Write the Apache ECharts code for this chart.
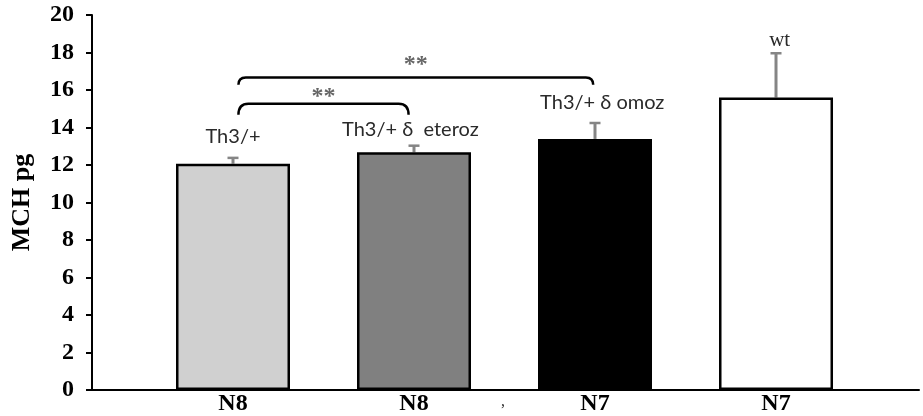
<!DOCTYPE html>
<html>
<head>
<meta charset="utf-8">
<script src="https://cdn.jsdelivr.net/npm/echarts@6/dist/echarts.min.js"></script>
<style>
  html, body { margin: 0; padding: 0; background: #fff; }
  #chart { width: 923px; height: 416px; }
</style>
</head>
<body>
<div id="chart"></div>
<script>
// Group labels along the x axis and the genotype tags above each bar
const categories = ['N8', 'N8', 'N7', 'N7'];
const groupTags = ['Th3/+', 'Th3/+ δ  eteroz', 'Th3/+ δ omoz', 'wt'];
// Mean MCH (pg) and upper error
const means = [12.07, 12.68, 13.39, 15.6];
const errors = [0.31, 0.35, 0.85, 2.36];
const barColors = ['#d0d0d0', '#808080', '#000000', '#ffffff'];
// Where each genotype tag sits: bar position and height (pg)
const tagX = [0, 0.98, 2.04, 3.02];
const tagHeights = [13.5, 13.9, 15.32, 18.65];
// Significance brackets: [from bar, to bar, top level, end level, mark level, mark]
const brackets = [
  [0.03, 0.97, 15.27, 14.68, 15.85, '**'],
  [0.03, 1.99, 16.67, 16.28, 17.57, '**']
];
const yTicks = { min: 0, max: 20, interval: 2 };

const chart = echarts.init(document.getElementById('chart'));

const barData = means.map((v, i) => ({
  value: [i, v],
  itemStyle: { color: barColors[i], borderColor: '#000', borderWidth: 2.5 }
}));

const errData = means.map((v, i) => [i, v, v + errors[i]]);
const tagData = groupTags.map((t, i) => [tagX[i], tagHeights[i], t]);

chart.setOption({
  animation: false,
  grid: { left: 92, right: 4, top: 15, bottom: 25 },
  xAxis: {
    type: 'value',
    min: -0.779,
    max: 3.79,
    splitLine: { show: false },
    axisLine: { show: true, onZero: false, lineStyle: { color: '#000', width: 2 } },
    axisTick: { show: false },
    axisLabel: {
      customValues: [0, 1, 2, 3],
      formatter: v => categories[Math.round(v)] || '',
      fontFamily: 'Liberation Serif',
      fontWeight: 'bold',
      fontSize: 24,
      color: '#000',
      margin: 2
    }
  },
  yAxis: {
    type: 'value',
    min: yTicks.min,
    max: yTicks.max,
    interval: yTicks.interval,
    name: 'MCH pg',
    nameLocation: 'middle',
    nameGap: 57,
    nameRotate: 90,
    nameTextStyle: {
      fontFamily: 'Liberation Serif', fontWeight: 'bold', fontSize: 26, color: '#000'
    },
    splitLine: { show: false },
    axisLine: { show: true, onZero: false, lineStyle: { color: '#000', width: 2 } },
    axisTick: { show: true, inside: false, length: 6, lineStyle: { color: '#000', width: 2 } },
    axisLabel: {
      fontFamily: 'Liberation Serif', fontWeight: 'bold', fontSize: 24, color: '#000', margin: 18
    }
  },
  graphic: [{
    type: 'text', left: 501, top: 394,
    style: { text: ',', font: '16px "Liberation Serif"', fill: '#333' }
  }],
  series: [
    {
      type: 'bar',
      data: barData,
      barWidth: 114
    },
    {
      type: 'custom',
      data: errData,
      z: 1,
      renderItem: (params, api) => {
        const base = api.coord([api.value(0), api.value(1)]);
        const top = api.coord([api.value(0), api.value(2)]);
        return {
          type: 'group',
          children: [
            { type: 'line', shape: { x1: base[0], y1: base[1], x2: top[0], y2: top[1] },
              style: { stroke: '#858585', lineWidth: 3 } },
            { type: 'line', shape: { x1: top[0] - 5.5, y1: top[1], x2: top[0] + 5.5, y2: top[1] },
              style: { stroke: '#858585', lineWidth: 2.5 } }
          ]
        };
      }
    },
    {
      type: 'custom',
      data: tagData,
      renderItem: (params, api) => {
        const p = api.coord([api.value(0), api.value(1)]);
        const txt = groupTags[params.dataIndex];
        const isWt = txt === 'wt';
        return {
          type: 'text',
          x: p[0], y: p[1],
          style: {
            text: txt,
            align: 'center', verticalAlign: 'middle',
            font: isWt ? '21px "Liberation Serif"' : '20px Lato',
            fill: '#2a2a2a'
          }
        };
      }
    },
    {
      type: 'custom',
      data: brackets.map(b => [b[0], b[1], b[2], b[3], b[4]]),
      renderItem: (params, api) => {
        const a = api.coord([api.value(0), api.value(2)]);
        const b = api.coord([api.value(1), api.value(2)]);
        const endY = api.coord([api.value(0), api.value(3)])[1];
        const markY = api.coord([api.value(0), api.value(4)])[1];
        const r = Math.min(10, endY - a[1]);
        const path =
          'M' + a[0] + ' ' + endY +
          ' Q' + a[0] + ' ' + a[1] + ' ' + (a[0] + r) + ' ' + a[1] +
          ' L' + (b[0] - r) + ' ' + b[1] +
          ' Q' + b[0] + ' ' + b[1] + ' ' + b[0] + ' ' + endY;
        return {
          type: 'group',
          children: [
            { type: 'path', shape: { pathData: path },
              style: { stroke: '#000', lineWidth: 2.5, fill: null } },
            { type: 'text', x: (a[0] + b[0]) / 2, y: markY + 4,
              style: { text: brackets[params.dataIndex][5], align: 'center', verticalAlign: 'middle',
                       font: 'bold 24px "Liberation Serif"', fill: '#666' } }
          ]
        };
      }
    }
  ]
});
</script>
</body>
</html>
